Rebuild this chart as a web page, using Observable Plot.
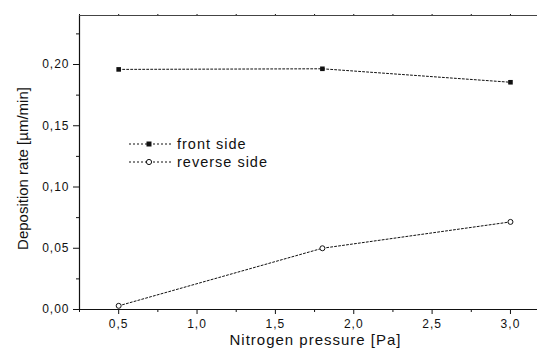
<!DOCTYPE html>
<html>
<head>
<meta charset="utf-8">
<script src="https://cdn.jsdelivr.net/npm/d3@7"></script>
<script src="https://cdn.jsdelivr.net/npm/@observablehq/plot@0.6"></script>
<style>
  body { margin: 0; background: #fff; }
  #wrap { position: relative; width: 537px; height: 354px; font-family: Arial, "Liberation Sans", sans-serif; }
  #legend { position: absolute; left: 0; top: 0; }
  #wrap svg text { letter-spacing: 1px; }
  #wrap svg text.ytitle { letter-spacing: 0px; }
</style>
</head>
<body>
<div id="wrap"></div>
<script>
// Data
const pressure = [0.5, 1.8, 3.0];
const frontSide = [0.196, 0.1965, 0.1855];
const reverseSide = [0.003, 0.050, 0.0715];
const xTicks = [0.5, 1.0, 1.5, 2.0, 2.5, 3.0];
const xMinor = [0.25, 0.75, 1.25, 1.75, 2.25, 2.75, 3.25];
const yTicks = [0.00, 0.05, 0.10, 0.15, 0.20];
const yMinor = [0.025, 0.075, 0.125, 0.175, 0.225];
const seriesNames = ["front side", "reverse side"];
const xTitle = "Nitrogen pressure [Pa]";
const yTitle = "Deposition rate [µm/min]";

const front = pressure.map((p, i) => ({x: p, y: frontSide[i]}));
const reverse = pressure.map((p, i) => ({x: p, y: reverseSide[i]}));
const comma = d => d3.format(".1f")(d).replace(".", ",");
const comma2 = d => d3.format(".2f")(d).replace(".", ",");

const FONT = "Arial, 'Liberation Sans', sans-serif";
const ink = "#111";
const chart = Plot.plot({
  width: 537,
  height: 354,
  marginTop: 15,
  marginBottom: 45,
  marginLeft: 79,
  marginRight: 0,
  style: {fontFamily: FONT, color: ink, background: "#fff", overflow: "visible"},
  x: {domain: [0.25, 3.1725]},
  y: {domain: [0, 0.24]},
  marks: [
    Plot.axisX({ticks: xMinor, tickSize: 3, text: null, label: null, stroke: ink}),
    Plot.axisX({ticks: xTicks, tickSize: 5, tickFormat: comma, label: null, fontSize: 12, tickPadding: 5, stroke: ink}),
    Plot.axisX({anchor: "top", ticks: xMinor.concat(xTicks), tickSize: 2, text: null, label: null, stroke: ink}),
    Plot.axisY({ticks: yMinor, tickSize: 3, text: null, label: null, stroke: ink}),
    Plot.axisY({ticks: yTicks, tickSize: 6, tickFormat: comma2, label: null, fontSize: 12, tickPadding: 4, stroke: ink}),
    Plot.frame({anchor: "left", stroke: ink, strokeWidth: 1.2}),
    Plot.frame({anchor: "bottom", stroke: ink, strokeWidth: 1.2}),
    Plot.frame({anchor: "top", stroke: "#444", strokeWidth: 1}),
    Plot.line(front, {x: "x", y: "y", stroke: ink, strokeWidth: 1, strokeDasharray: "2,2"}),
    Plot.line(reverse, {x: "x", y: "y", stroke: ink, strokeWidth: 1, strokeDasharray: "2,2"}),
    Plot.dot(front, {x: "x", y: "y", symbol: "square", r: 2.6, fill: ink, stroke: "none"}),
    Plot.dot(reverse, {x: "x", y: "y", symbol: "circle", r: 2.5, fill: "#fff", stroke: ink, strokeWidth: 1}),
    Plot.text([xTitle], {text: d => d, frameAnchor: "bottom", textAnchor: "middle", dy: 35, dx: 7, fontSize: 15, fill: ink, fontFamily: FONT}),
    Plot.text([yTitle], {text: d => d, frameAnchor: "left", textAnchor: "middle", rotate: -90, dx: -56, dy: 6, fontSize: 15, fill: ink, fontFamily: FONT})
  ]
});
document.getElementById("wrap").appendChild(chart);
d3.select(chart).selectAll("text").filter(function() { return this.textContent === yTitle; }).classed("ytitle", true);

// Legend overlay
const leg = d3.select("#wrap").append("svg").attr("id", "legend").attr("width", 537).attr("height", 354);
const rows = [{name: seriesNames[0], sym: "square", y: 144}, {name: seriesNames[1], sym: "circle", y: 162}];
rows.forEach(r => {
  leg.append("line").attr("x1", 129).attr("x2", 172).attr("y1", r.y).attr("y2", r.y)
    .attr("stroke", ink).attr("stroke-width", 1).attr("stroke-dasharray", "2,2");
  if (r.sym === "square") {
    leg.append("rect").attr("x", 146.5).attr("y", r.y - 2.5).attr("width", 5).attr("height", 5).attr("fill", ink);
  } else {
    leg.append("circle").attr("cx", 149).attr("cy", r.y).attr("r", 2.6).attr("fill", "#fff").attr("stroke", ink);
  }
  leg.append("text").attr("x", 177).attr("y", r.y).attr("dy", "0.36em")
    .attr("font-size", 14.5).attr("fill", ink)
    .attr("font-family", FONT).text(r.name);
});
</script>
</body>
</html>
